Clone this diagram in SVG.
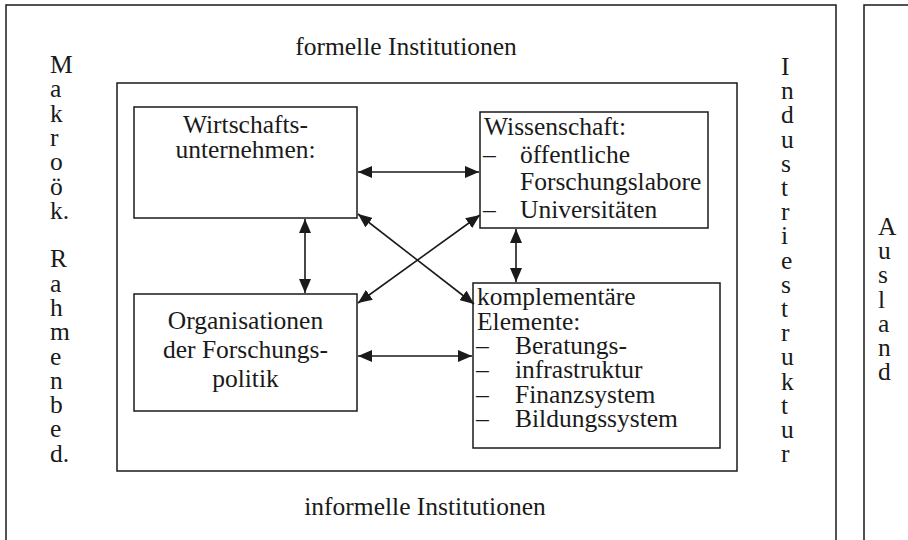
<svg xmlns="http://www.w3.org/2000/svg" width="908" height="540" viewBox="0 0 908 540">
<style>
  text { font-family: "Liberation Serif", "Times New Roman", serif; font-size: 25.5px; fill: #1a1a1a; }
  .frame { fill: none; stroke: #1a1a1a; stroke-width: 1.5; }
  .box { fill: #fff; stroke: #1a1a1a; stroke-width: 1.5; }
  .c { text-anchor: middle; }
  .conn line { stroke: #1a1a1a; stroke-width: 1.6; marker-start: url(#ah); marker-end: url(#ah); }
</style>
<defs>
  <marker id="ah" viewBox="0 0 14 12" refX="14" refY="6" markerWidth="14" markerHeight="12" markerUnits="userSpaceOnUse" orient="auto-start-reverse">
    <path d="M0,0 L14,6 L0,12 z" fill="#1a1a1a"/>
  </marker>
</defs>
<rect width="908" height="540" fill="#fff"/>

<g id="outer">
  <path class="frame" d="M6,560 V5 H836 V560"/>
  <text class="c" x="406" y="55">formelle Institutionen</text>
  <text class="c" x="425" y="515">informelle Institutionen</text>
  <text x="50" y="73"><tspan x="50" y="73">M</tspan><tspan x="50" dy="24.3">a</tspan><tspan x="50" dy="24.3">k</tspan><tspan x="50" dy="24.3">r</tspan><tspan x="50" dy="24.3">o</tspan><tspan x="50" dy="24.3">ö</tspan><tspan x="50" dy="24.3">k.</tspan><tspan x="50" dy="48.6">R</tspan><tspan x="50" dy="24.3">a</tspan><tspan x="50" dy="24.3">h</tspan><tspan x="50" dy="24.3">m</tspan><tspan x="50" dy="24.3">e</tspan><tspan x="50" dy="24.3">n</tspan><tspan x="50" dy="24.3">b</tspan><tspan x="50" dy="24.3">e</tspan><tspan x="50" dy="24.3">d.</tspan></text>
  <text x="781" y="75"><tspan x="781" y="75">I</tspan><tspan x="781" dy="24.2">n</tspan><tspan x="781" dy="24.2">d</tspan><tspan x="781" dy="24.2">u</tspan><tspan x="781" dy="24.2">s</tspan><tspan x="781" dy="24.2">t</tspan><tspan x="781" dy="24.2">r</tspan><tspan x="781" dy="24.2">i</tspan><tspan x="781" dy="24.2">e</tspan><tspan x="781" dy="24.2">s</tspan><tspan x="781" dy="24.2">t</tspan><tspan x="781" dy="24.2">r</tspan><tspan x="781" dy="24.2">u</tspan><tspan x="781" dy="24.2">k</tspan><tspan x="781" dy="24.2">t</tspan><tspan x="781" dy="24.2">u</tspan><tspan x="781" dy="24.2">r</tspan></text>
</g>

<g id="ausland">
  <path class="frame" d="M864,560 V5 H920"/>
  <text x="878" y="235"><tspan x="878" y="235">A</tspan><tspan x="878" dy="24.2">u</tspan><tspan x="878" dy="24.2">s</tspan><tspan x="878" dy="24.2">l</tspan><tspan x="878" dy="24.2">a</tspan><tspan x="878" dy="24.2">n</tspan><tspan x="878" dy="24.2">d</tspan></text>
</g>

<g id="inner">
  <rect class="frame" x="117" y="83" width="620" height="388"/>
</g>

<g id="wirtschaft">
  <rect class="box" x="134" y="107" width="223" height="111"/>
  <text class="c" x="245.5" y="133">Wirtschafts-</text>
  <text class="c" x="245.5" y="158">unternehmen:</text>
</g>

<g id="wissenschaft">
  <rect class="box" x="480" y="112" width="228" height="116"/>
  <text x="484" y="135">Wissenschaft:</text>
  <text x="483" y="163">–</text>
  <text x="520" y="163">öffentliche</text>
  <text x="520" y="190">Forschungslabore</text>
  <text x="483" y="218">–</text>
  <text x="520" y="218">Universitäten</text>
</g>

<g id="forschungspolitik">
  <rect class="box" x="134" y="294" width="223" height="117"/>
  <text class="c" x="245.5" y="329">Organisationen</text>
  <text class="c" x="245.5" y="358">der Forschungs-</text>
  <text class="c" x="245.5" y="387">politik</text>
</g>

<g id="komplementaer">
  <rect class="box" x="473" y="283" width="247" height="165"/>
  <text x="477" y="305">komplementäre</text>
  <text x="477" y="329.5">Elemente:</text>
  <text x="476" y="354">–</text>
  <text x="515" y="354">Beratungs-</text>
  <text x="476" y="378">–</text>
  <text x="515" y="378">infrastruktur</text>
  <text x="476" y="402.5">–</text>
  <text x="515" y="402.5">Finanzsystem</text>
  <text x="476" y="427">–</text>
  <text x="515" y="427">Bildungssystem</text>
</g>

<g id="connectors" class="conn">
  <line x1="358" y1="172" x2="479" y2="172"/>
  <line x1="305" y1="219" x2="305" y2="293"/>
  <line x1="516" y1="229" x2="516" y2="282"/>
  <line x1="358" y1="356" x2="472" y2="356"/>
  <line x1="358" y1="214" x2="474" y2="304"/>
  <line x1="358" y1="303" x2="480" y2="215"/>
</g>
</svg>
